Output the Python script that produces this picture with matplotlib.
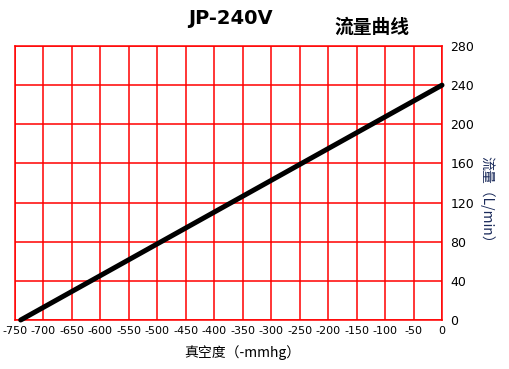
import matplotlib
matplotlib.use("Agg")
import matplotlib.pyplot as plt
import numpy as np

plt.rcParams['font.family'] = ['DejaVu Sans', 'Noto Sans CJK SC']

vacuum = [-740, 0]
flow = [0, 240]
x_ticks = list(range(-750, 1, 50))
y_ticks = list(range(0, 281, 40))

fig = plt.figure(figsize=(5.09, 3.69), dpi=100)
W, H = 509, 369
L, R, T, B = 15, 442, 46, 320
ax = fig.add_axes([L / W, 1 - B / H, (R - L) / W, (B - T) / H])
ax.set_xlim(-750, 0)
ax.set_ylim(0, 280)
ax.set_xticks(x_ticks)
ax.set_yticks(y_ticks)
ax.set_xticklabels([str(v) for v in x_ticks], fontsize=8)
ax.set_yticklabels([str(v) for v in y_ticks], fontsize=9)
ax.yaxis.tick_right()
ax.tick_params(length=0, pad=6)
ax.tick_params(axis='x', pad=4)
ax.grid(True, color='#ff0000', linewidth=1.1)
for s in ax.spines.values():
    s.set_color('#ff0000')
    s.set_linewidth(1.1)
ax.set_axisbelow(True)
ax.plot(vacuum, flow, color='black', linewidth=3.6, solid_capstyle='round', clip_on=False, zorder=5)

ax.set_xlabel('真空度（-mmhg）', fontsize=10, family=['Noto Sans CJK SC'], va='center')
ax.xaxis.set_label_coords((242 - L) / (R - L), -(353 - B) / (B - T))
ax.yaxis.set_label_position('right')
ax.set_ylabel('流量（L/min）', fontsize=10, rotation=-90, color='#1a2a5a', family=['Noto Sans CJK SC'], va='center')
ax.yaxis.set_label_coords((487 - L) / (R - L), (B - 203) / (B - T))

fig.text(230 / W, 1 - 18 / H, 'JP-240V', ha='center', va='center', fontsize=14, fontweight='bold')
fig.text(372 / W, 1 - 27 / H, '流量曲线', ha='center', va='center', fontsize=13.5, fontweight='bold', family=['Noto Sans CJK SC'])

fig.savefig('out.png', dpi=100)
